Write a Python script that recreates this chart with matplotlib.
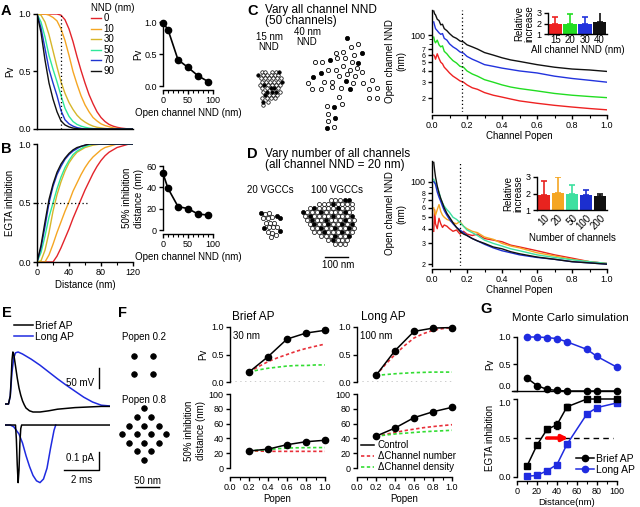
import numpy as np
import matplotlib
matplotlib.use('Agg')
import matplotlib.pyplot as plt
from matplotlib.lines import Line2D

plt.rcParams['font.family'] = ['Liberation Sans', 'DejaVu Sans']
plt.rcParams['font.size'] = 7
plt.rcParams['xtick.labelsize'] = 6.5
plt.rcParams['ytick.labelsize'] = 6.5
plt.rcParams['axes.linewidth'] = 1.0
plt.rcParams['xtick.major.width'] = 1.0
plt.rcParams['ytick.major.width'] = 1.0
plt.rcParams['xtick.major.size'] = 3
plt.rcParams['ytick.major.size'] = 3
plt.rcParams['xtick.minor.size'] = 2
plt.rcParams['xtick.minor.width'] = 0.8
plt.rcParams['xtick.major.pad'] = 1.5
plt.rcParams['ytick.major.pad'] = 1.5
plt.rcParams['axes.labelpad'] = 2

# ---------------- A / B : Pv and EGTA inhibition vs distance ----------------
nnd_values = [0, 10, 30, 50, 70, 90]
nnd_colors = ['#e3242b', '#f5a623', '#d6b62a', '#2ee89a', '#1f35d0', '#111111']
distance = np.arange(0, 125, 5)

pv_nnd0 = [1, 1, 1, 1, 1, 1, 0.99, 0.95, 0.87, 0.76, 0.63, 0.51, 0.40, 0.30, 0.22, 0.15,
           0.10, 0.065, 0.04, 0.025, 0.015, 0.008, 0.004, 0, 0]
pv_nnd10 = [1, 1, 1, 0.99, 0.97, 0.94, 0.87, 0.77, 0.64, 0.50, 0.39, 0.29, 0.21, 0.15, 0.10,
            0.07, 0.045, 0.03, 0.02, 0.01, 0.005, 0.002, 0, 0, 0]
pv_nnd30 = [1, 0.99, 0.93, 0.82, 0.68, 0.54, 0.41, 0.31, 0.23, 0.17, 0.12, 0.085, 0.06, 0.04,
            0.025, 0.015, 0.01, 0.005, 0.002, 0, 0, 0, 0, 0, 0]
pv_nnd50 = [1, 0.93, 0.80, 0.64, 0.52, 0.41, 0.29, 0.18, 0.11, 0.065, 0.04, 0.025, 0.015, 0.008,
            0.004, 0, 0, 0, 0, 0, 0, 0, 0, 0, 0]
pv_nnd70 = [1, 0.88, 0.70, 0.52, 0.40, 0.29, 0.16, 0.08, 0.045, 0.025, 0.012, 0.005, 0, 0, 0,
            0, 0, 0, 0, 0, 0, 0, 0, 0, 0]
pv_nnd90 = [1, 0.84, 0.60, 0.40, 0.26, 0.15, 0.07, 0.035, 0.018, 0.008, 0.003, 0, 0, 0, 0,
            0, 0, 0, 0, 0, 0, 0, 0, 0, 0]
pv_curves = [pv_nnd0, pv_nnd10, pv_nnd30, pv_nnd50, pv_nnd70, pv_nnd90]

egta_nnd0 = [0, 0, 0, 0, 0, 0.05, 0.12, 0.20, 0.28, 0.37, 0.45, 0.53, 0.61, 0.68, 0.75, 0.81,
             0.86, 0.90, 0.93, 0.95, 0.97, 0.98, 0.99, 1.0, 1.0]
egta_nnd10 = [0, 0, 0, 0.06, 0.15, 0.25, 0.34, 0.43, 0.51, 0.60, 0.67, 0.74, 0.80, 0.85, 0.89,
              0.92, 0.95, 0.97, 0.98, 0.99, 1, 1, 1, 1, 1]
egta_nnd30 = [0, 0.01, 0.10, 0.25, 0.43, 0.57, 0.68, 0.77, 0.84, 0.89, 0.93, 0.95, 0.97, 0.98,
              0.99, 0.995, 1, 1, 1, 1, 1, 1, 1, 1, 1]
egta_nnd50 = [0, 0.08, 0.22, 0.38, 0.50, 0.62, 0.72, 0.80, 0.86, 0.91, 0.94, 0.96, 0.98, 0.99,
              1, 1, 1, 1, 1, 1, 1, 1, 1, 1, 1]
egta_nnd70 = [0, 0.12, 0.30, 0.50, 0.64, 0.74, 0.81, 0.87, 0.91, 0.94, 0.96, 0.98, 0.99, 1,
              1, 1, 1, 1, 1, 1, 1, 1, 1, 1, 1]
egta_nnd90 = [0, 0.14, 0.34, 0.53, 0.66, 0.76, 0.83, 0.88, 0.92, 0.95, 0.97, 0.98, 0.99, 1,
              1, 1, 1, 1, 1, 1, 1, 1, 1, 1, 1]
egta_curves = [egta_nnd0, egta_nnd10, egta_nnd30, egta_nnd50, egta_nnd70, egta_nnd90]

inset_nnd = [0, 10, 30, 50, 70, 90]
inset_pv = [0.99, 0.88, 0.41, 0.29, 0.16, 0.07]
inset_half_dist = [53, 39, 22, 20, 15, 14]

# ---------------- C / D : open channel NND vs Popen ----------------
popen_cd = [0.01, 0.015, 0.02, 0.03, 0.04, 0.05, 0.06, 0.07, 0.085, 0.1, 0.12, 0.14, 0.16,
            0.18, 0.2, 0.23, 0.26, 0.3, 0.35, 0.4, 0.45, 0.5, 0.6, 0.7, 0.8, 0.9, 1.0]
c_nnd15 = [60, 58, 54, 62, 55, 50, 48, 44, 41, 38, 35, 33, 31, 30, 28, 26, 25, 23, 21.5, 20.5,
           19.5, 18.6, 17.5, 16.6, 15.9, 15.3, 14.8]
c_nnd20 = [95, 86, 82, 88, 78, 74, 76, 66, 62, 57, 52, 49, 45, 44, 40, 37, 35, 32, 30, 28,
           26.5, 25.5, 24, 22.5, 21.5, 20.8, 20.2]
c_nnd30 = [140, 128, 118, 112, 106, 102, 104, 92, 88, 80, 74, 70, 65, 63, 58, 54, 51, 47, 45,
           43, 41.5, 40, 38, 35, 33, 31.5, 30]
c_nnd40 = [185, 172, 168, 150, 145, 130, 132, 118, 112, 104, 96, 92, 86, 84, 78, 74, 70, 64,
           60, 56, 53, 51, 47, 44, 42, 41, 39.5]
c_colors = ['#ee2222', '#22dd22', '#2233dd', '#111111']

d_n10 = [38, 58, 44, 40, 49, 44, 41, 43, 42, 40, 38, 39, 36, 38, 36, 35, 36, 33, 32, 31, 29,
         28, 26, 24, 22.5, 21, 20.3]
d_n20 = [60, 55, 52, 58, 64, 56, 52, 50, 48, 47, 45, 44, 46, 42, 40, 38, 37, 34, 32.5, 30,
         28.5, 27.5, 25, 23.5, 22, 21, 20.2]
d_n50 = [105, 100, 96, 90, 82, 72, 66, 62, 58, 55, 50, 48, 45, 42, 39, 37, 35, 32, 30, 28.5,
         27, 26, 24, 22.8, 21.8, 21, 20.3]
d_n100 = [100, 98, 95, 82, 74, 68, 62, 57, 52, 48, 44, 41, 39, 37, 35, 33, 31.5, 29.5, 27.5,
          26, 25, 24, 22.8, 22, 21, 20.5, 20]
d_n200 = [146, 125, 110, 92, 80, 72, 66, 60, 54, 50, 45, 41, 38, 36, 35, 33, 31.5, 30, 28, 27,
          25.5, 24.5, 23, 22, 21, 20.5, 20]
d_colors = ['#e8231f', '#f5a623', '#3de0a0', '#1c2fcf', '#111111']

c_bar_labels = ['15', '20', '30', '40']
c_bar_rel = [2.0, 2.0, 2.0, 2.1]
c_bar_err = [0.65, 0.95, 0.6, 1.05]
d_bar_labels = ['10', '20', '50', '100', '200']
d_bar_rel = [1.9, 2.05, 2.0, 1.9, 1.85]
d_bar_err = [0.85, 0.95, 0.5, 0.32, 0.1]

# channel positions (units of 1/3 px, ~1.43 nm)
c15_filled = [(193, 215), (130, 225), (200, 245), (148, 255), (167, 265), (178, 265),
              (157, 275), (170, 275), (182, 275), (150, 285), (145, 305)]
c15_open = [(140, 215), (151, 215), (172, 215), (183, 215), (145, 225), (157, 225), (168, 225),
            (180, 225), (190, 225), (138, 235), (150, 235), (162, 235), (175, 235), (186, 235),
            (197, 235), (140, 245), (152, 245), (164, 245), (176, 245), (188, 245), (135, 255),
            (160, 255), (172, 255), (184, 255), (195, 255), (142, 265), (155, 265), (190, 265),
            (145, 275), (194, 275), (162, 285), (174, 285), (186, 285), (142, 295), (155, 295),
            (168, 295), (180, 295), (158, 305), (143, 315)]
c40_filled = [(395, 115), (440, 160), (345, 180), (430, 188), (318, 218), (293, 232),
              (392, 243), (405, 268), (358, 320), (360, 355), (335, 383)]
c40_open = [(428, 133), (408, 140), (362, 158), (385, 155), (418, 165), (300, 187), (322, 187),
            (367, 175), (390, 175), (410, 185), (340, 210), (362, 210), (385, 198), (405, 210),
            (328, 245), (350, 245), (372, 228), (395, 222), (420, 228), (442, 215), (280, 248),
            (415, 248), (445, 250), (470, 240), (292, 268), (318, 268), (350, 262), (378, 265),
            (462, 268), (485, 265), (462, 293), (485, 295), (382, 312), (337, 318), (338, 342),
            (340, 362), (358, 380), (425, 205), (372, 292)]
d20_filled = [(137, 218), (185, 228), (195, 235), (148, 265), (195, 272)]
d20_open = [(150, 222), (162, 218), (172, 230), (145, 235), (160, 235), (152, 248), (165, 248),
            (178, 248), (162, 262), (175, 262), (158, 275), (170, 278), (182, 285), (185, 262),
            (168, 290)]
d100_row_y = [180, 192, 204, 216, 228, 240, 252, 264, 276, 288, 300, 312]
d100_row_x = [[347, 361, 375, 389, 403],
              [312, 326, 340, 354, 368, 382, 396, 410],
              [284, 298, 312, 326, 340, 354, 368, 382, 396, 410],
              [263, 277, 291, 305, 319, 333, 347, 361, 375, 389, 403],
              [270, 284, 298, 312, 326, 340, 354, 368, 382, 396, 410],
              [277, 291, 305, 319, 333, 347, 361, 375, 389, 403, 417],
              [284, 298, 312, 326, 340, 354, 368, 382, 396, 410],
              [291, 305, 319, 333, 347, 361, 375, 389, 403, 417],
              [298, 312, 326, 340, 354, 368, 382, 396, 410],
              [319, 333, 347, 361, 375, 389, 403],
              [340, 354, 368, 382, 396],
              [361, 375, 389]]
d100_row_filled = [[389, 403], [354], [298, 368], [263, 319, 389], [284, 354, 410],
                   [291, 333, 389], [298, 340, 382, 410], [319, 361, 403], [326, 382],
                   [361, 403], [354], []]

# ---------------- E : AP waveforms and Ca currents ----------------
t_v_brief = [0, 0.2, 0.3, 0.35, 0.4, 0.45, 0.5, 0.6, 0.7, 0.8, 0.9, 1.0, 1.1, 1.2, 1.4, 1.6,
             2.0, 2.5, 3.0, 3.5, 4.0, 4.5, 5.0, 5.5, 6.0]
v_brief = [0, 0, 20, 60, 110, 130, 125, 95, 65, 40, 22, 8, -2, -10, -17, -20, -20, -17, -13,
           -11, -9, -8, -7, -6, -6]
t_v_long = [0, 0.2, 0.3, 0.4, 0.5, 0.6, 0.75, 1.0, 1.5, 2.0, 2.5, 3.0, 3.5, 4.0, 4.5, 5.0,
            5.5, 6.0]
v_long = [0, 0, 20, 80, 115, 128, 130, 125, 112, 97, 80, 63, 47, 32, 17, 5, -3, -5]
t_i_brief = [0, 0.6, 0.65, 0.7, 0.75, 0.8, 0.85, 0.9, 0.95, 6.0]
i_brief = [0, 0, -0.08, -0.22, -0.32, -0.25, -0.10, -0.02, 0, 0]
t_i_long = [0, 0.3, 0.5, 0.8, 1.0, 1.2, 1.4, 1.6, 1.8, 2.0, 2.2, 2.4, 2.6, 2.8, 2.9]
i_long = [0, 0, -0.01, -0.05, -0.10, -0.17, -0.23, -0.28, -0.31, -0.32, -0.30, -0.24, -0.13,
          -0.03, 0]

# ---------------- F : Popen dependence ----------------
f_dots_02 = [(403, 197), (458, 197), (403, 252), (458, 252)]
f_dots_08 = [(432, 355), (410, 381), (454, 381), (388, 407), (432, 407), (476, 407),
             (366, 432), (410, 432), (454, 432), (498, 432), (388, 458), (432, 458),
             (476, 458), (410, 484), (454, 484), (432, 510)]
popen_f = [0.2, 0.4, 0.6, 0.8, 1.0]
popen_f_fine = [0.2, 0.3, 0.4, 0.5, 0.6, 0.7, 0.8, 0.9, 1.0]
brief_pv_ctrl = [0.18, 0.46, 0.78, 0.89, 0.94]
brief_pv_number = [0.18, 0.28, 0.37, 0.44, 0.50, 0.56, 0.61, 0.65, 0.69]
brief_pv_density = [0.18, 0.22, 0.25, 0.27, 0.29, 0.30, 0.30, 0.31, 0.31]
brief_dist_ctrl = [23, 25.5, 31.5, 35.5, 37.5]
brief_dist_number = [23, 22.8, 22.6, 22.5, 22.5, 22.5, 22.5, 22.5, 22.5]
brief_dist_density = [23, 24, 25, 26, 27, 27.3, 27.5, 27.6, 27.6]
long_pv_ctrl = [0.12, 0.57, 0.92, 0.98, 0.99]
long_pv_number = [0.12, 0.32, 0.50, 0.66, 0.80, 0.88, 0.94, 0.97, 0.99]
long_pv_density = [0.12, 0.135, 0.15, 0.16, 0.17, 0.175, 0.18, 0.18, 0.18]
long_dist_ctrl = [43, 54, 68, 76, 82]
long_dist_number = [43, 45.5, 48, 50.5, 52.5, 54.5, 56, 57.3, 58.5]
long_dist_density = [43, 44.5, 46, 47, 48, 49, 49.7, 50.3, 51]

# ---------------- G : Monte Carlo simulation ----------------
g_dist = [10, 20, 30, 40, 50, 70, 80, 100]
g_pv_brief = [0.24, 0.10, 0.03, 0.01, 0.0, 0.0, 0.0, 0.0]
g_pv_long = [1.0, 1.0, 0.99, 0.97, 0.91, 0.77, 0.64, 0.44]
g_egta_brief = [0.14, 0.41, 0.61, 0.67, 0.90, 1.0, 1.0, 1.0]
g_egta_brief_err = [0.03, 0.03, 0.03, 0.05, 0.04, 0.01, 0.01, 0.01]
g_egta_long = [0.01, 0.02, 0.08, 0.16, 0.42, 0.81, 0.89, 0.95]
g_egta_long_err = [0.01, 0.01, 0.01, 0.01, 0.03, 0.02, 0.02, 0.03]

RED = '#e8303a'
GREEN = '#33dd33'
BLUE = '#1f2be0'

W, H = 640, 507
fig = plt.figure(figsize=(6.4, 5.07), dpi=100)


def box(x0, y0, x1, y1):
    # axes from a pixel box (left, top, right, bottom)
    return fig.add_axes([x0 / W, 1 - y1 / H, (x1 - x0) / W, (y1 - y0) / H])


def label(x, y, s, **kw):
    fig.text(x / W, 1 - y / H, s, **kw)


def clean(ax, bottom=True, offset=0):
    ax.spines['top'].set_visible(False)
    ax.spines['right'].set_visible(False)
    if bottom:
        ax.spines['bottom'].set_position(('outward', offset))
    else:
        ax.spines['bottom'].set_visible(False)
        ax.tick_params(axis='x', bottom=False, labelbottom=False)


def dots(ax, pts, filled, ms, mew=0.6):
    xs = [p[0] for p in pts]
    ys = [p[1] for p in pts]
    ax.plot(xs, ys, 'o', ls='none', ms=ms, mec='k', mew=mew,
            mfc='k' if filled else 'white', clip_on=False)


# panel letters and titles
for s, x, y in [('A', 1, 15), ('B', 1, 153), ('C', 247, 15), ('D', 247, 158),
                ('E', 2, 317), ('F', 118, 317), ('G', 480, 313)]:
    label(x, y, s, fontsize=10.5, fontweight='bold', va='baseline')
label(265, 13, 'Vary all channel NND', fontsize=8.5, va='baseline')
label(265, 24, '(50 channels)', fontsize=8.5, va='baseline')
label(265, 157, 'Vary number of all channels', fontsize=8.5, va='baseline')
label(265, 168, '(all channel NND = 20 nm)', fontsize=8.5, va='baseline')
label(232, 320, 'Brief AP', fontsize=8.5, va='baseline')
label(361, 320, 'Long AP', fontsize=8.5, va='baseline')
label(512, 321, 'Monte Carlo simulation', fontsize=8.2, va='baseline')

# ---------------- A ----------------
axA = box(37, 14, 133, 129)
for nnd, col, pv in zip(nnd_values, nnd_colors, pv_curves):
    axA.plot(distance, pv, color=col, lw=1.0, label=str(nnd))
axA.axvline(30, color='k', ls=(0, (1, 2)), lw=0.9)
axA.set_xlim(0, 120)
axA.set_ylim(0, 1)
clean(axA)
axA.set_xticks([])
axA.set_yticks([0, 0.5, 1.0], ['0.0', '0.5', '1.0'])
axA.set_ylabel('Pv')
legA = axA.legend(title='NND (nm)', loc='upper left', bbox_to_anchor=(91 / W, 1 - 3 / H),
                  bbox_transform=fig.transFigure, frameon=False, handlelength=1.0,
                  handletextpad=0.3, labelspacing=0.05, borderpad=0, borderaxespad=0,
                  title_fontsize=7, fontsize=7)
legA._legend_box.align = 'left'

axAi = box(163, 22, 213, 86)
axAi.plot(inset_nnd, inset_pv, 'k-o', ms=4.5, lw=1.2, clip_on=False)
axAi.set_xlim(0, 100)
axAi.set_ylim(0, 1)
clean(axAi, offset=3)
axAi.set_xticks([0, 50, 100], ['0', '50', '100'])
axAi.set_xticks(range(0, 101, 10), minor=True)
axAi.set_yticks([0, 0.5, 1.0], ['0.0', '0.5', '1.0'])
axAi.set_ylabel('Pv', labelpad=1)
axAi.set_xlabel('Open channel NND (nm)')

# ---------------- B ----------------
axB = box(37, 144, 133, 262)
for col, eg in zip(nnd_colors, egta_curves):
    axB.plot(distance, eg, color=col, lw=1.0)
axB.plot([0, 64], [0.5, 0.5], color='k', ls=(0, (1, 2)), lw=0.9)
axB.set_xlim(0, 120)
axB.set_ylim(0, 1)
clean(axB)
axB.set_xticks([0, 40, 80, 120])
axB.set_xticks([20, 60, 100], minor=True)
axB.set_yticks([0, 0.5, 1.0], ['0.0', '0.5', '1.0'])
axB.set_ylabel('EGTA inhibition')
axB.set_xlabel('Distance (nm)')

axBi = box(163, 166, 213, 230)
axBi.plot(inset_nnd, inset_half_dist, 'k-o', ms=4.5, lw=1.2, clip_on=False)
axBi.set_xlim(0, 100)
axBi.set_ylim(0, 60)
clean(axBi, offset=3)
axBi.set_xticks([0, 50, 100], ['0', '50', '100'])
axBi.set_xticks(range(0, 101, 10), minor=True)
axBi.set_yticks([0, 20, 40, 60])
axBi.set_ylabel('50% inhibition\ndistance (nm)', labelpad=2)
axBi.set_xlabel('Open channel NND (nm)')

# ---------------- C ----------------
axCp = box(250, 30, 395, 135)
axCp.set_xlim(105, 540)
axCp.set_ylim(405, 90)
axCp.axis('off')
dots(axCp, c15_open, False, 2.5, 0.5)
dots(axCp, c15_filled, True, 2.5, 0.5)
dots(axCp, c40_open, False, 3.0)
dots(axCp, c40_filled, True, 3.0)
label(269, 50, '15 nm\nNND', ha='center', va='baseline', linespacing=0.95)
label(307, 45, '40 nm\nNND', ha='center', va='baseline', linespacing=0.95)

axC = box(432, 10, 607, 112)
for col, yv in zip(c_colors, [c_nnd15, c_nnd20, c_nnd30, c_nnd40]):
    axC.plot(popen_cd, yv, color=col, lw=1.0)
axC.set_yscale('log')
axC.set_ylim(14, 190)
axC.set_xlim(0, 1)
axC.axvline(0.17, color='k', ls=(0, (1, 2)), lw=0.9)
clean(axC, offset=2)
axC.set_yticks([20, 30, 40, 50, 60, 70, 100], ['2', '3', '4', '5', '6', '7', '100'])
axC.set_yticks([80, 90], minor=True)
axC.set_yticklabels([], minor=True)
axC.tick_params(axis='y', which='minor', length=2)
for tl in axC.get_yticklabels()[:-1]:
    tl.set_fontsize(5)
axC.set_xticks([0, 0.2, 0.4, 0.6, 0.8, 1.0], ['0.0', '0.2', '0.4', '0.6', '0.8', '1.0'])
axC.set_xticks(np.arange(0.1, 1.0, 0.2), minor=True)
axC.set_ylabel('Open channel NND\n(nm)', labelpad=3)
axC.set_xlabel('Channel Popen', labelpad=1)

axCi = box(548, 13, 607, 34)
xc = np.arange(len(c_bar_labels))
axCi.bar(xc, c_bar_rel, width=0.92, color=c_colors, bottom=0)
for xi, v, e, col in zip(xc, c_bar_rel, c_bar_err, c_colors):
    axCi.errorbar(xi, v, yerr=[[0], [e]], color=col, capsize=2.5, lw=1.2, capthick=1.2)
axCi.set_ylim(1, 3)
axCi.set_xlim(-0.5, len(c_bar_labels) - 0.5)
clean(axCi)
axCi.set_yticks([1, 2, 3])
axCi.set_xticks(xc, c_bar_labels, fontsize=7)
axCi.tick_params(axis='x', length=0, pad=1)
axCi.set_xlabel('All channel NND (nm)', fontsize=7, labelpad=0)
axCi.set_ylabel('Relative\nincrease', fontsize=7, labelpad=2, linespacing=0.95)

# ---------------- D ----------------
axDp = box(250, 170, 395, 275)
axDp.set_xlim(105, 540)
axDp.set_ylim(405, 90)
axDp.axis('off')
dots(axDp, d20_open, False, 3.0, 0.5)
dots(axDp, d20_filled, True, 3.0, 0.5)
d100_open = []
d100_filled = []
for yv, row, frow in zip(d100_row_y, d100_row_x, d100_row_filled):
    for xv in row:
        (d100_filled if xv in frow else d100_open).append((xv, yv))
dots(axDp, d100_open, False, 2.9, 0.5)
dots(axDp, d100_filled, True, 2.9, 0.5)
axDp.plot([330, 330 + 100 / 1.43], [350, 350], color='k', lw=1.0)
label(270, 193, '20 VGCCs', ha='center', va='baseline')
label(337, 193, '100 VGCCs', ha='center', va='baseline')
label(338, 268, '100 nm', ha='center', va='baseline')

axD = box(432, 161, 607, 266)
for col, yv in zip(d_colors, [d_n10, d_n20, d_n50, d_n100, d_n200]):
    axD.plot(popen_cd, yv, color=col, lw=1.0)
axD.set_yscale('log')
axD.set_ylim(19.3, 150)
axD.set_xlim(0, 1)
axD.axvline(0.16, color='k', ls=(0, (1, 2)), lw=0.9)
clean(axD, offset=2)
axD.set_yticks([20, 30, 40, 50, 60, 70, 80, 100], ['2', '3', '4', '5', '6', '7', '8', '100'])
axD.set_yticks([90], minor=True)
axD.set_yticklabels([], minor=True)
axD.tick_params(axis='y', which='minor', length=2)
for tl in axD.get_yticklabels()[:-1]:
    tl.set_fontsize(5)
axD.set_xticks([0, 0.2, 0.4, 0.6, 0.8, 1.0], ['0.0', '0.2', '0.4', '0.6', '0.8', '1.0'])
axD.set_xticks(np.arange(0.1, 1.0, 0.2), minor=True)
axD.set_ylabel('Open channel NND\n(nm)', labelpad=3)
axD.set_xlabel('Channel Popen', labelpad=1)

axDi = box(537, 177, 607, 210)
xd = np.arange(len(d_bar_labels))
axDi.bar(xd, d_bar_rel, width=0.92, color=d_colors)
for xi, v, e, col in zip(xd, d_bar_rel, d_bar_err, d_colors):
    axDi.errorbar(xi, v, yerr=[[0], [e]], color=col, capsize=2.5, lw=1.2, capthick=1.2)
axDi.set_ylim(1, 3)
axDi.set_xlim(-0.5, len(d_bar_labels) - 0.5)
clean(axDi)
axDi.set_yticks([1, 2, 3])
axDi.set_xticks(xd, d_bar_labels, fontsize=7, rotation=45, ha='right', rotation_mode='anchor')
axDi.tick_params(axis='x', length=0, pad=2)
axDi.set_xlabel('Number of channels', fontsize=7, labelpad=1)
axDi.set_ylabel('Relative\nincrease', fontsize=7, labelpad=2, linespacing=0.95)

# ---------------- E ----------------
axV = box(5, 345, 110, 420)
axV.plot(t_v_long, v_long, color=BLUE, lw=1.1)
axV.plot(t_v_brief, v_brief, color='k', lw=1.1)
axV.set_xlim(0, 6)
axV.set_ylim(-40, 147.5)
axV.axis('off')
axV.plot([5.37, 5.37], [40, 90], color='k', lw=1.0, clip_on=False)
axV.text(5.1, 52, '50 mV', ha='right', va='center')

axI = box(5, 418, 110, 490)
axI.plot(t_i_long, i_long, color=BLUE, lw=1.1)
axI.plot(t_i_brief, i_brief, color='k', lw=1.1)
axI.set_xlim(0, 6)
axI.set_ylim(-0.361, 0.039)
axI.axis('off')
axI.plot([3.37, 5.37, 5.37], [-0.25, -0.25, -0.15], color='k', lw=1.0, clip_on=False)
axI.text(5.1, -0.185, '0.1 pA', ha='right', va='center')
axI.text(4.37, -0.275, '2 ms', ha='center', va='top')

e_handles = [Line2D([], [], color='k', lw=1.1), Line2D([], [], color=BLUE, lw=1.1)]
axV.legend(e_handles, ['Brief AP', 'Long AP'], loc='upper left',
           bbox_to_anchor=(14 / W, 1 - 321 / H), bbox_transform=fig.transFigure,
           frameon=False, handlelength=1.8, handletextpad=0.2, labelspacing=0.1,
           borderpad=0, borderaxespad=0, fontsize=7.5)

# ---------------- F ----------------
axFp = box(112, 340, 176, 495)
axFp.set_xlim(336, 528)
axFp.set_ylim(615, 150)
axFp.axis('off')
dots(axFp, f_dots_02, True, 4.0)
dots(axFp, f_dots_08, True, 4.0)
axFp.plot([408, 478], [592, 592], color='k', lw=1.0)
label(144, 340, 'Popen 0.2', ha='center', va='baseline')
label(144, 403, 'Popen 0.8', ha='center', va='baseline')
label(147, 484, '50 nm', ha='center', va='baseline')

dot_ls = (0, (2, 1.5))


def f_top(ax, ctrl, num, den, tag, ylab):
    ax.plot(popen_f_fine, num, color=RED, ls=dot_ls, lw=1.2)
    ax.plot(popen_f_fine, den, color=GREEN, ls=dot_ls, lw=1.2)
    ax.plot(popen_f, ctrl, 'k-o', ms=4.5, lw=1.1, clip_on=False)
    ax.axhline(0, color='k', ls=(0, (1, 2.5)), lw=1.0)
    ax.set_xlim(0, 1)
    ax.set_ylim(0, 1)
    clean(ax, bottom=False)
    ax.set_yticks([0, 0.5, 1.0], ['0.0', '0.5', '1.0'])
    ax.text(0.03, 0.93, tag, transform=ax.transAxes, va='top')
    if ylab:
        ax.set_ylabel('Pv')


def f_bottom(ax, ctrl, num, den, ylab):
    ax.plot(popen_f_fine, num, color=RED, ls=dot_ls, lw=1.2)
    ax.plot(popen_f_fine, den, color=GREEN, ls=dot_ls, lw=1.2)
    ax.plot(popen_f, ctrl, 'k-o', ms=4.5, lw=1.1, clip_on=False)
    ax.set_xlim(0, 1)
    ax.set_ylim(0, 100)
    clean(ax, offset=6.5)
    ax.set_yticks([0, 20, 40, 60, 80, 100])
    ax.set_xticks([0, 0.2, 0.4, 0.6, 0.8, 1.0], ['0.0', '0.2', '0.4', '0.6', '0.8', '1.0'])
    ax.set_xticks(np.arange(0.1, 1.0, 0.2), minor=True)
    ax.set_xlabel('Popen', labelpad=1)
    if ylab:
        ax.set_ylabel('50% inhibition\ndistance (nm)')


axF1 = box(230, 327, 325, 382)
f_top(axF1, brief_pv_ctrl, brief_pv_number, brief_pv_density, '30 nm', True)
axF2 = box(230, 394, 325, 468)
f_bottom(axF2, brief_dist_ctrl, brief_dist_number, brief_dist_density, True)
axF3 = box(357, 327, 452, 382)
f_top(axF3, long_pv_ctrl, long_pv_number, long_pv_density, '100 nm', False)
axF4 = box(357, 394, 452, 468)
f_bottom(axF4, long_dist_ctrl, long_dist_number, long_dist_density, False)

f_handles = [Line2D([], [], color='k', lw=1.1),
             Line2D([], [], color=RED, ls=dot_ls, lw=1.2),
             Line2D([], [], color=GREEN, ls=dot_ls, lw=1.2)]
axF4.legend(f_handles, ['Control', '\u0394Channel number', '\u0394Channel density'],
            loc='upper left', bbox_to_anchor=(361 / W, 1 - 440 / H),
            bbox_transform=fig.transFigure, frameon=False, handlelength=1.3,
            handletextpad=0.4, labelspacing=0.1, borderpad=0, borderaxespad=0, fontsize=7)

# ---------------- G ----------------
axGt = box(517, 337, 617, 391)
axGt.plot(g_dist, g_pv_long, '-o', color=BLUE, ms=4.5, lw=1.1, clip_on=False)
axGt.plot(g_dist, g_pv_brief, 'k-o', ms=4.5, lw=1.1, clip_on=False)
axGt.set_xlim(0, 100)
axGt.set_ylim(0, 1)
clean(axGt)
axGt.spines['bottom'].set_bounds(-5, 100)
axGt.tick_params(axis='x', bottom=False, labelbottom=False)
axGt.set_yticks([0, 0.5, 1.0], ['0.0', '0.5', '1.0'])
axGt.get_yticklabels()[0].set_va('bottom')
axGt.set_ylabel('Pv')

axGb = box(517, 399, 617, 477)
axGb.plot([8, 96], [0.5, 0.5], color='k', ls=(0, (4, 3)), lw=1.0)
axGb.errorbar(g_dist, g_egta_long, yerr=g_egta_long_err, fmt='-s', color=BLUE, ms=4,
              lw=1.1, capsize=1.5, clip_on=False)
axGb.errorbar(g_dist, g_egta_brief, yerr=g_egta_brief_err, fmt='-s', color='k', ms=4,
              lw=1.1, capsize=1.5, clip_on=False)
axGb.annotate('', xy=(54, 0.5), xytext=(27, 0.5),
              arrowprops=dict(arrowstyle='-|>', color='red', lw=2.5, mutation_scale=9))
axGb.set_xlim(0, 100)
axGb.set_ylim(0, 1)
clean(axGb, offset=3)
axGb.set_yticks([0, 0.5, 1.0], ['0.0', '0.5', '1.0'])
axGb.get_yticklabels()[-1].set_va('top')
axGb.set_xticks([0, 20, 40, 60, 80, 100])
axGb.set_xticks([10, 30, 50, 70, 90], minor=True)
axGb.set_xlabel('Distance(nm)', fontsize=6.8)
axGb.xaxis.set_label_coords(0.5, -0.27)
axGb.set_ylabel('EGTA inhibition')
g_handles = [Line2D([], [], color='k', marker='o', ms=4.5, lw=1.1),
             Line2D([], [], color=BLUE, marker='o', ms=4.5, lw=1.1)]
axGb.legend(g_handles, ['Brief AP', 'Long AP'], loc='upper left',
            bbox_to_anchor=(576 / W, 1 - 454 / H), bbox_transform=fig.transFigure,
            frameon=False, handlelength=1.7, handletextpad=0.2, labelspacing=0.1,
            borderpad=0, borderaxespad=0, fontsize=7.5)

fig.savefig('out.png', dpi=100)
